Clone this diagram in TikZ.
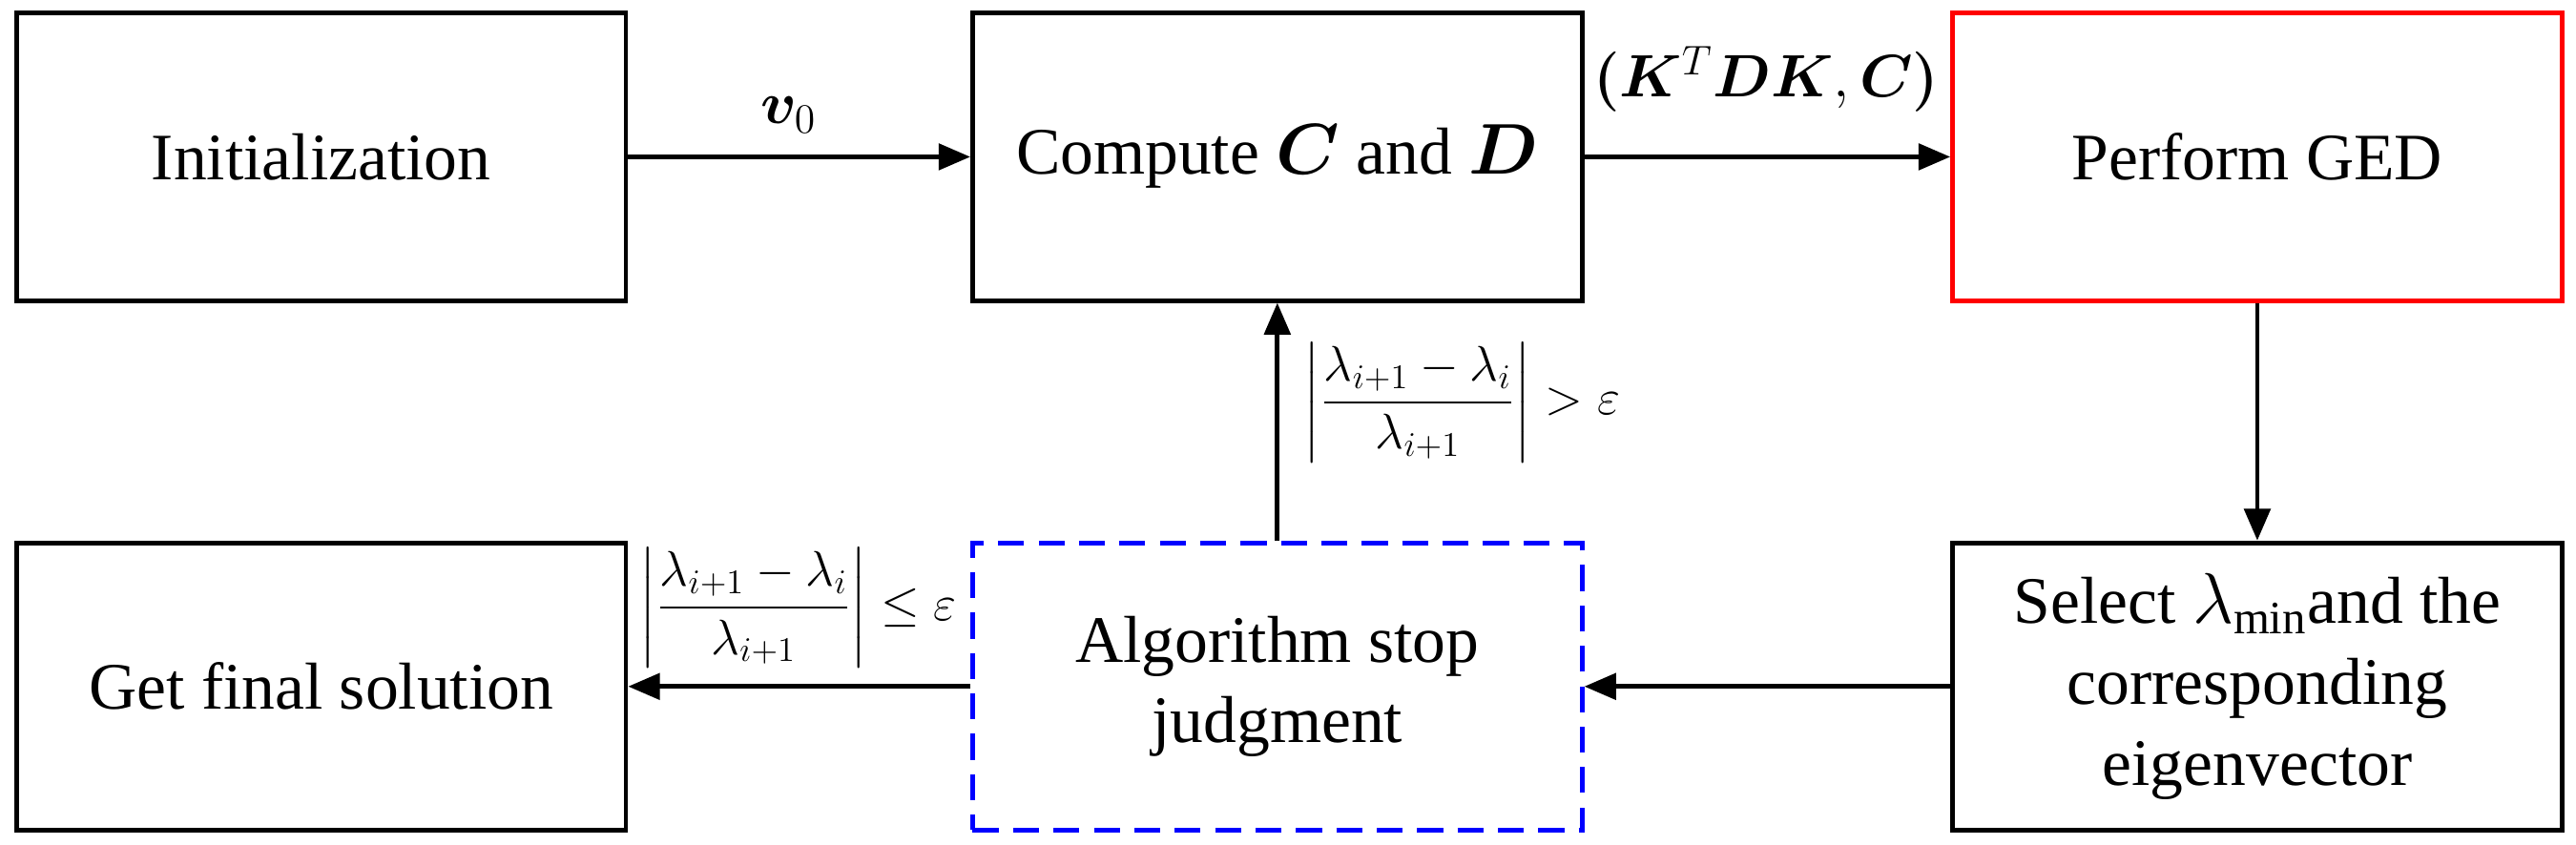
\documentclass[tikz,border=0pt]{standalone}
\usepackage{fontspec}
\setmainfont{Liberation Serif}
\usepackage{amsmath,bm}
\usetikzlibrary{arrows.meta}
\begin{document}
\begin{tikzpicture}[x=0.02cm,y=-0.02cm,
  box/.style={draw,line width=1.6pt,minimum width=7.42cm,minimum height=3.5cm,align=center,font=\fontsize{23}{28}\selectfont},
  arr/.style={line width=1.6pt,-{Triangle[length=11pt,width=9pt]}},
  lab/.style={font=\fontsize{21}{25}\selectfont},
  frac/.style={font=\fontsize{18.5}{22}\selectfont}]
\useasboundingbox (0,0) rectangle (1568,514);
\node[box] (init) at (195.5,95.5) {Initialization};
\node[box] (comp) at (777.5,95.5) {Compute $\bm{C}$ and $\bm{D}$};
\node[box,draw=red] (ged) at (1374,95.5) {Perform GED};
\node[box] (sel) at (1374,418) {Select $\lambda_{\min}$and the\\corresponding\\eigenvector};
\node[box,draw=blue,dashed,dash pattern=on 9pt off 5pt] (alg) at (777.5,418) {Algorithm stop\\judgment};
\node[box] (fin) at (195.5,418) {Get final solution};
\draw[arr] (init) -- (comp);
\draw[arr] (comp) -- (ged);
\draw[arr] (ged) -- (sel);
\draw[arr] (sel) -- (alg);
\draw[arr] (alg) -- (fin);
\draw[arr] (alg) -- (comp);
\node[lab] (l1) at (480,70) {$\bm{v}_0$};
\node[lab] (l2) at (1075,48) {$\bm{(}\bm{K}^T\bm{DK},\bm{C}\bm{)}$};
\node[frac] (l3) at (890,245) {$\left|\dfrac{\lambda_{i+1}-\lambda_i}{\lambda_{i+1}}\right|>\varepsilon$};
\node[frac] (l4) at (486,370) {$\left|\dfrac{\lambda_{i+1}-\lambda_i}{\lambda_{i+1}}\right|\le\varepsilon$};
\end{tikzpicture}
\end{document}
